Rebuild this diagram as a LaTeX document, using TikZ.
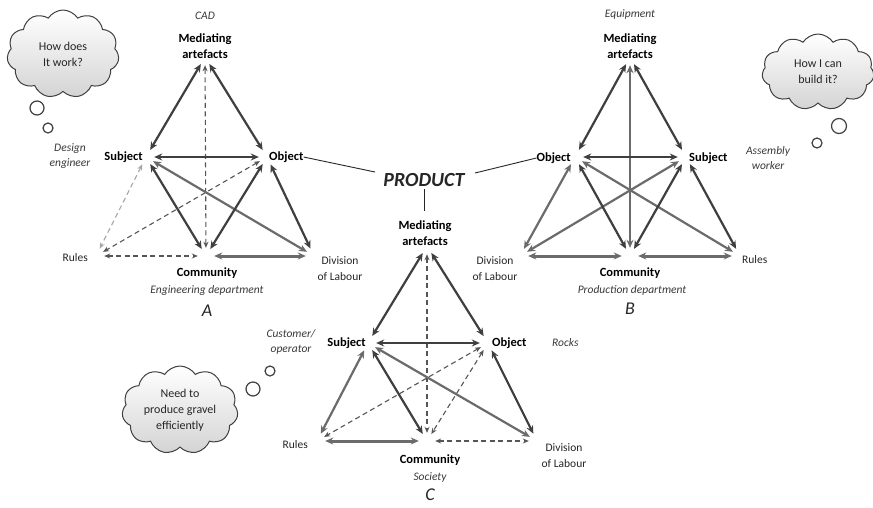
\documentclass[tikz,border=0pt]{standalone}
\usepackage{fontspec}
\setmainfont{Carlito}
\usetikzlibrary{arrows.meta,shapes.symbols}
\definecolor{dkc}{HTML}{3F3F3F}
\definecolor{mdc}{HTML}{6B6B6B}
\definecolor{dsc}{HTML}{555555}
\definecolor{ltc}{HTML}{A6A6A6}
\definecolor{txc}{HTML}{262626}
\definecolor{itc}{HTML}{3A3A3A}
\tikzset{
  vtx/.style={circle, minimum size=16pt, inner sep=0pt},
  arr/.style={{Stealth[length=8pt,width=7pt]}-{Stealth[length=8pt,width=7pt]}, line width=2.2pt},
  dk/.style={arr, draw=dkc},
  md/.style={arr, draw=mdc},
  mdthick/.style={arr, draw=mdc, line width=3pt},
  dshbase/.style={dash pattern=on 5pt off 3.5pt, line width=1.1pt, {Stealth[length=6pt,width=5pt]}-{Stealth[length=6pt,width=5pt]}},
  dsh/.style={dshbase, draw=dsc},
  ldsh/.style={dshbase, draw=ltc},
  lbl/.style={font=\bfseries\fontsize{12.5}{16}\selectfont, text=black, align=center, inner sep=0pt},
  itl/.style={font=\itshape\fontsize{11.5}{15.5}\selectfont, text=itc, align=center, inner sep=0pt},
  rgl/.style={font=\fontsize{11.5}{16}\selectfont, text=txc, align=center, inner sep=0pt},
  bigl/.style={font=\itshape\fontsize{18}{20}\selectfont, text=txc, inner sep=0pt},
  thought/.style={cloud, cloud puffs=11, cloud puff arc=115, cloud ignores aspect,
    draw=dkc, line width=1pt,
    top color=white, bottom color=black!17, align=center, inner sep=0pt,
    font=\fontsize{12}{16}\selectfont, text=txc},
  bubble/.style={circle, draw=dkc, line width=1.2pt, fill=white, inner sep=0pt},
  conn/.style={draw=black!85, line width=0.9pt}
}
\begin{document}
\begin{tikzpicture}[x=1pt,y=-1pt]
\useasboundingbox (0,0) rectangle (873,507);
\fill[white] (0,0) rectangle (873,507);

% ---------- Triangle A ----------
\node[vtx] (aM) at (205,57) {};
\node[vtx] (aS) at (146,157) {};
\node[vtx] (aO) at (267,157) {};
\node[vtx] (aR) at (96,256) {};
\node[vtx] (aC) at (206,256) {};
\node[vtx] (aD) at (314,256) {};

\draw[ldsh] (aS) -- (aR);
\draw[dsh] (aO) -- (aR);
\draw[dsh] (aR) -- (aC);
\draw[dsh] (aM) -- (aC);
\draw[md] (aS) -- (aD);
\draw[mdthick] (aC) -- (aD);
\draw[dk] (aM) -- (aS);
\draw[dk] (aM) -- (aO);
\draw[dk] (aS) -- (aO);
\draw[dk] (aS) -- (aC);
\draw[dk] (aO) -- (aC);
\draw[dk] (aO) -- (aD);

\node[itl] (aMt) at (205,16) {CAD};
\node[lbl] (aMl) at (205,46) {Mediating\\artefacts};
\node[lbl,anchor=east] (aSl) at (143,157) {Subject};
\node[lbl,anchor=west] (aOl) at (269,157) {Object};
\node[rgl,anchor=east] (aRl) at (88,258) {Rules};
\node[lbl] (aCl) at (207,273) {Community};
\node[itl] (aCt) at (207,290) {Engineering department};
\node[bigl] (aLet) at (207,311) {A};
\node[rgl] (aDl) at (340,269) {Division\\of Labour};
\node[itl] (aSt) at (70,156) {Design\\engineer};

\node[thought, minimum width=112pt, minimum height=88pt] (cloudA) at (63,54) {How does\\It work?};
\node[bubble, minimum size=14pt] (bA1) at (37,108) {};
\node[bubble, minimum size=10pt] (bA2) at (48,128) {};

% ---------- Triangle B ----------
\node[vtx] (bM) at (630,57) {};
\node[vtx] (bO) at (575,157) {};
\node[vtx] (bS) at (686,157) {};
\node[vtx] (bD) at (520,256) {};
\node[vtx] (bC) at (630,256) {};
\node[vtx] (bR) at (740,256) {};

\draw[md] (bM) -- (bC);
\draw[md] (bO) -- (bD);
\draw[md] (bO) -- (bR);
\draw[md] (bS) -- (bD);
\draw[mdthick] (bD) -- (bC);
\draw[mdthick] (bC) -- (bR);
\draw[dk] (bM) -- (bO);
\draw[dk] (bM) -- (bS);
\draw[dk] (bO) -- (bS);
\draw[dk] (bO) -- (bC);
\draw[dk] (bS) -- (bC);
\draw[dk] (bS) -- (bR);

\node[itl] (bMt) at (630,14) {Equipment};
\node[lbl] (bMl) at (630,46) {Mediating\\artefacts};
\node[lbl,anchor=east] (bOl) at (571,158) {Object};
\node[lbl,anchor=west] (bSl) at (689,158) {Subject};
\node[rgl] (bDl) at (495,269) {Division\\of Labour};
\node[rgl,anchor=west] (bRl) at (742,260) {Rules};
\node[lbl] (bCl) at (630,273) {Community};
\node[itl] (bCt) at (632,290) {Production department};
\node[bigl] (bLet) at (630,309) {B};
\node[itl] (bSt) at (768,158) {Assembly\\worker};

\node[thought, minimum width=112pt, minimum height=76pt] (cloudB) at (818,72) {How I can\\build it?};
\node[bubble, minimum size=15pt] (bB1) at (839,126) {};
\node[bubble, minimum size=10pt] (bB2) at (817,143) {};

% ---------- Triangle C ----------
\node[vtx] (cM) at (427,246) {};
\node[vtx] (cS) at (368,343) {};
\node[vtx] (cO) at (488,343) {};
\node[vtx] (cR) at (317,441) {};
\node[vtx] (cC) at (427,441) {};
\node[vtx] (cD) at (537,441) {};

\draw[dsh] (cM) -- (cC);
\draw[dsh] (cO) -- (cR);
\draw[dsh] (cO) -- (cC);
\draw[dsh] (cC) -- (cD);
\draw[md] (cS) -- (cR);
\draw[md] (cS) -- (cD);
\draw[mdthick] (cR) -- (cC);
\draw[dk] (cM) -- (cS);
\draw[dk] (cM) -- (cO);
\draw[dk] (cS) -- (cO);
\draw[dk] (cS) -- (cC);
\draw[dk] (cO) -- (cD);

\node[lbl] (cMl) at (425,233) {Mediating\\artefacts};
\node[lbl,anchor=east] (cSl) at (366,343) {Subject};
\node[lbl,anchor=west] (cOl) at (492,343) {Object};
\node[itl,anchor=west] (cOt) at (552,343) {Rocks};
\node[itl] (cSt) at (291,342) {Customer/\\operator};
\node[rgl,anchor=east] (cRl) at (308,445) {Rules};
\node[lbl] (cCl) at (430,460) {Community};
\node[itl] (cCt) at (430,477) {Society};
\node[bigl] (cLet) at (430,495) {C};
\node[rgl] (cDl) at (564,456) {Division\\of Labour};

\node[thought, minimum width=116pt, minimum height=88pt] (cloudC) at (180,410) {Need to\\produce gravel\\efficiently};
\node[bubble, minimum size=14pt] (bC1) at (253,389) {};
\node[bubble, minimum size=10pt] (bC2) at (270,371) {};

% ---------- PRODUCT ----------
\node[font=\bfseries\itshape\fontsize{20}{24}\selectfont, text=txc, inner sep=0pt] (prod) at (424,180) {PRODUCT};
\coordinate (pL) at (375,172);
\coordinate (pR) at (475,173);
\coordinate (pT) at (424,189);
\coordinate (pB) at (424,211);
\draw[conn] (aOl.east) -- (pL);
\draw[conn] (pR) -- (bOl.west);
\draw[conn] (pT) -- (pB);
\end{tikzpicture}
\end{document}
